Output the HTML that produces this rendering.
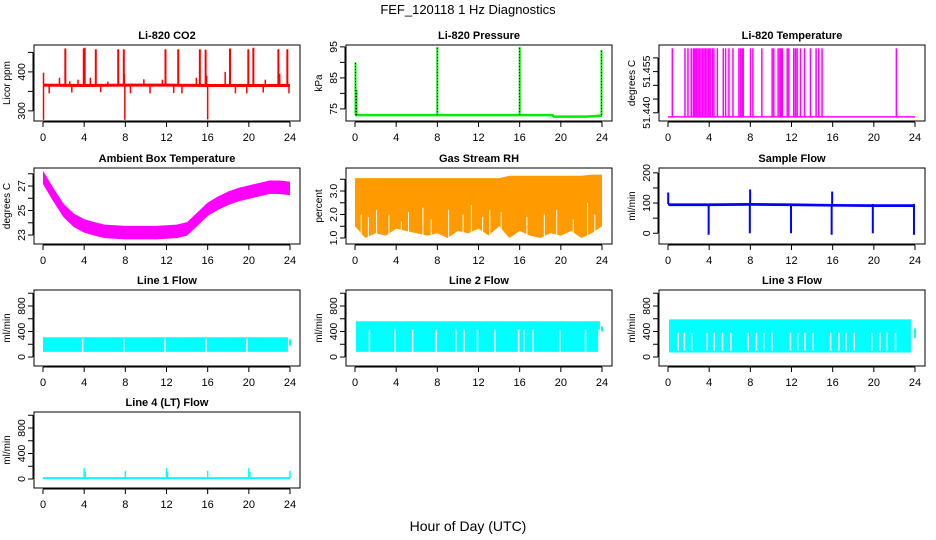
<!DOCTYPE html>
<html><head><meta charset="utf-8"><style>
html,body{margin:0;padding:0;background:#fff;width:936px;height:540px;overflow:hidden}
svg{display:block;font-family:"Liberation Sans",Arial,sans-serif}
</style></head><body>
<svg id="fig" width="936" height="540" viewBox="0 0 936 540" xmlns="http://www.w3.org/2000/svg">
<text x="468" y="14" text-anchor="middle" font-size="13">FEF_120118  1 Hz Diagnostics</text>
<text x="468" y="531" text-anchor="middle" font-size="14">Hour of Day (UTC)</text>
</svg>
<script>
// ---- data ----
const xTicks = [0,4,8,12,16,20,24];
const co2BaseT = [0,4,8,12,16,20,24];
const co2BaseV = [366,365,366,366,365,365,365];
const co2SpikeT = [2.17,3.96,4.05,5.13,7.31,7.85,11.9,13.14,15.24,15.8,18.17,19.95,20.44,22.87,23.74];
const co2SpikeV = [460,460,462,458,458,458,458,458,458,457,460,458,462,458,458];
const co2MidT = [0.05,1.6,2.6,3.4,4.6,6.3,7.9,9.8,11.6,14.9,15.9,17.7,21.6,23.0];
const co2MidV = [398,385,376,380,385,375,395,381,380,385,390,400,380,395];
const co2DipT = [0.05,0.6,2.8,5.6,7.95,8.5,10.4,12.7,13.5,16.0,18.7,19.8,21.4,23.9];
const co2DipV = [277,345,347,348,277,345,345,346,345,278,345,345,347,345];

const presT = [0,0.1,19.2,19.3,22.5,23.8,24];
const presV = [73,73,73,72.5,72.5,72.8,72.8];
const presSpikeT = [0.05,0.15,8,16,23.95];
const presSpikeV = [90,81,95,95,94];

const ltBase = 51.4385;
const ltSpikeT = [0.42,1.65,1.94,2.26,2.46,2.6,2.75,2.9,3.05,3.2,3.35,3.5,3.65,3.8,3.95,4.1,4.3,4.46,4.79,5.37,5.6,5.92,6.31,6.89,7.05,7.21,7.31,8.02,8.25,9.12,10.12,10.28,10.7,10.87,11.0,11.1,11.58,11.74,12.22,12.39,12.55,12.87,13.26,13.84,14.39,14.65,14.97,22.19];
const ltSpikeV = 51.4635;

const ambT = [0,1,2,3,4,5,6,7,8,9,10,11,12,13,14,15,16,17,18,19,20,21,22,23,24];
const ambV = [27.7,26.3,25.0,24.2,23.75,23.5,23.3,23.25,23.2,23.2,23.2,23.2,23.25,23.3,23.5,24.3,25.1,25.6,26.0,26.3,26.5,26.7,26.9,26.9,26.8];
const ambHalf = 0.55;

const rhT = [0,1,2,3,4,5,6,7,8,9,10,11,12,13,14,15,16,17,18,19,20,21,22,23,24];
const rhHi = [3.55,3.55,3.55,3.55,3.55,3.55,3.55,3.55,3.55,3.55,3.55,3.55,3.55,3.55,3.55,3.65,3.65,3.65,3.65,3.65,3.65,3.65,3.65,3.7,3.7];
const rhLo = [1.5,1.0,1.2,1.1,1.4,1.3,1.2,1.1,1.2,1.0,1.3,1.2,1.4,1.1,1.5,1.0,1.3,1.1,1.0,1.2,1.1,1.3,1.0,1.2,1.5];
const rhGapT = [0.6,1.3,2.1,3.3,4.5,5.2,6.6,7.4,9.1,10.5,11.3,12.4,13.1,14.2,16.7,18.4,19.6,21.2,22.6,23.3];
const rhGapV = [2.0,1.9,2.2,2.0,1.7,2.1,2.3,1.8,2.2,2.0,2.4,1.9,2.2,2.1,1.9,2.0,2.2,1.8,2.5,2.0];

const sfT = [0,0.2,4,8,12,16,20,24];
const sfV = [97,95,95,96,95,93,92,92];
const sfDipT = [3.95,7.95,11.95,15.9,19.9,23.9];
const sfDipV = [-5,0,0,-5,0,-5];
const sfSpikeT = [0.02,7.98,15.95];
const sfSpikeV = [135,145,138];

const l1Lo = 80, l1Hi = 310;
const l1GapT = [3.85,7.85,11.85,15.85,19.8];
const l2Lo = 80, l2Hi = 560;
const l2GapT = [1.4,3.9,5.6,7.9,9.8,10.6,11.9,13.6,15.9,16.4,17.3,19.9,22.4,23.7];
const l3Lo = 70, l3Hi = 590;
const l3GapT = [1.0,1.6,2.3,3.8,4.5,5.3,6.1,7.8,8.6,9.3,10.1,11.9,12.6,13.3,14.1,15.8,16.6,17.3,18.1,19.8,20.6,21.3,22.1];
const l4Base = 15;
const l4SpikeT = [4,4.1,8,12,12.1,16,20,20.1,24];
const l4SpikeV = [170,110,130,170,110,130,170,110,130];

// ---- layout ----
const svg = document.getElementById('fig');
const NS = 'http://www.w3.org/2000/svg';
const colL = [34,346,659], rowT = [45,168,290,412], PW = 266, PH = 76;
function mk(tag, attrs, parent){ const e=document.createElementNS(NS,tag); for(const k in attrs) e.setAttribute(k,attrs[k]); (parent||svg).appendChild(e); return e; }
function panel(c,r,y0,y1,yt,yl,title,ylab,name){
  const L=colL[c], T=rowT[r];
  const g=mk('g',{});
  
  
  const P={L,T,g,sx:t=>L+9+t*(247/24),sy:v=>T+PH-(v-y0)/(y1-y0)*PH};
  const cl=mk('clipPath',{id:'clip-'+name},g);
  mk('rect',{x:L,y:T,width:PW,height:PH},cl);
  P.d=mk('g',{'clip-path':'url(#clip-'+name+')'},g);
  
  
  const tt=mk('text',{x:L+PW/2,y:T-6,'text-anchor':'middle','font-size':'11','font-weight':'bold'},g);
  tt.textContent=title;
  
  
  const yl2=mk('text',{transform:`translate(${L-24},${T+PH/2}) rotate(-90)`,'text-anchor':'middle','font-size':'10'},g);
  yl2.textContent=ylab;
  
  
  const B=T+PH;
  mk('line',{x1:P.sx(0),x2:P.sx(24),y1:B+1,y2:B+1,stroke:'#000'},g);
  xTicks.forEach(t=>{
    mk('line',{x1:P.sx(t),x2:P.sx(t),y1:B+1,y2:B+6,stroke:'#000'},g);
    const tx=mk('text',{x:P.sx(t),y:B+20,'text-anchor':'middle','font-size':'11'},g);
    tx.textContent=t;
    
    
  });
  mk('line',{x1:L-1,x2:L-1,y1:P.sy(yt[0]),y2:P.sy(yt[yt.length-1]),stroke:'#000'},g);
  yt.forEach(v=>mk('line',{x1:L-6,x2:L-1,y1:P.sy(v),y2:P.sy(v),stroke:'#000'},g));
  yl.forEach(o=>{
    const tx=mk('text',{transform:`translate(${L-9},${P.sy(o.v)}) rotate(-90)`,'text-anchor':'middle','font-size':'10.5'},g);
    tx.textContent=o.s;
    
    
  });
  mk('rect',{x:L,y:T,width:PW,height:PH,fill:'none',stroke:'#000'},g);
  return P;
}
function poly(P,ts,vs,color,w){ mk('polyline',{points:ts.map((t,i)=>P.sx(t)+','+P.sy(vs[i])).join(' '),fill:'none',stroke:color,'stroke-width':w},P.d); }
function vline(P,t,a,b,color,w,dash){ const e=mk('line',{x1:P.sx(t),x2:P.sx(t),y1:P.sy(a),y2:P.sy(b),stroke:color,'stroke-width':w},P.d); if(dash) e.setAttribute('stroke-dasharray',dash); }
function band(P,ts,lo,hi,fill){
  const lv=ts.map((t,i)=>Array.isArray(lo)?lo[i]:lo), hv=ts.map((t,i)=>Array.isArray(hi)?hi[i]:hi);
  const pts=ts.map((t,i)=>P.sx(t)+','+P.sy(hv[i])).concat(ts.slice().reverse().map((t,j)=>P.sx(t)+','+P.sy(lv[ts.length-1-j])));
  mk('polygon',{points:pts.join(' '),fill:fill},P.d);
}

// CO2
let P=panel(0,0,274,469,[300,350,400,450],[{v:300,s:'300'},{v:400,s:'400'}],'Li-820 CO2','Licor ppm','co2');
co2SpikeT.forEach((t,i)=>vline(P,t,co2BaseV[0],co2SpikeV[i],'#ff0000',2));
co2MidT.forEach((t,i)=>vline(P,t,co2BaseV[0],co2MidV[i],'#ff0000',1.5));
co2DipT.forEach((t,i)=>vline(P,t,co2BaseV[0],co2DipV[i],'#ff0000',1.5));
poly(P,co2BaseT,co2BaseV,'#ff0000',3);

// Pressure
P=panel(1,0,71.1,95.6,[75,80,85,90,95],[{v:75,s:'75'},{v:85,s:'85'},{v:95,s:'95'}],'Li-820 Pressure','kPa','pressure');
poly(P,presT,presV,'#00ee00',2.5);
presSpikeT.forEach((t,i)=>{vline(P,t,presV[0],presSpikeV[i],'#00ee00',2);vline(P,t,presV[0],presSpikeV[i],'#000',1,'1 2');});

// Li temp
P=panel(2,0,51.437,51.4647,[51.44,51.445,51.45,51.455,51.46],[{v:51.44,s:'51.440'},{v:51.455,s:'51.455'}],'Li-820 Temperature','degrees C','li820-temp');
mk('line',{x1:P.sx(0),x2:P.sx(24),y1:P.sy(ltBase),y2:P.sy(ltBase),stroke:'#ff00ff','stroke-width':1.5},P.d);
ltSpikeT.forEach(t=>vline(P,t,ltBase,ltSpikeV,'#ff00ff',1.5));

// Ambient
P=panel(0,1,22.27,28.47,[23,24,25,26,27,28],[{v:23,s:'23'},{v:25,s:'25'},{v:27,s:'27'}],'Ambient Box Temperature','degrees C','ambient-temp');
band(P,ambT,ambV.map(v=>v-ambHalf),ambV.map(v=>v+ambHalf),'#ff00ff');

// RH
P=panel(1,1,0.745,3.98,[1,1.5,2,2.5,3,3.5],[{v:1,s:'1.0'},{v:2,s:'2.0'},{v:3,s:'3.0'}],'Gas Stream RH','percent','gas-rh');
band(P,rhT,rhLo,rhHi,'#ff9a00');
rhGapT.forEach((t,i)=>vline(P,t,0.8,rhGapV[i],'#ffffff',1));

// Sample flow
P=panel(2,1,-35.5,216,[0,50,100,150,200],[{v:0,s:'0'},{v:100,s:'100'},{v:200,s:'200'}],'Sample Flow','ml/min','sample-flow');
band(P,sfT,sfV.map(v=>v-5),sfV.map(v=>v+4),'#0000ff');
sfDipT.forEach((t,i)=>vline(P,t,sfV[0],sfDipV[i],'#0000ff',2));
sfSpikeT.forEach((t,i)=>vline(P,t,sfV[0],sfSpikeV[i],'#0000ff',2));

// Line flows
const lt=[0,200,400,600,800,1000], ll=[{v:0,s:'0'},{v:400,s:'400'},{v:800,s:'800'}];
P=panel(0,2,-141,1051,lt,ll,'Line 1 Flow','ml/min','line1-flow');
band(P,[0,23.8],l1Lo,l1Hi,'#00ffff');
l1GapT.forEach(t=>vline(P,t,l1Lo-5,l1Hi-20,'#fff',1.5));
vline(P,24,180,280,'#00ffff',2);

P=panel(1,2,-141,1051,lt,ll,'Line 2 Flow','ml/min','line2-flow');
band(P,[0.1,23.8],l2Lo,l2Hi,'#00ffff');
l2GapT.forEach(t=>vline(P,t,l2Lo-5,430,'#fff',1.5));
vline(P,24,400,480,'#00ffff',2);

P=panel(2,2,-141,1051,lt,ll,'Line 3 Flow','ml/min','line3-flow');
band(P,[0.1,23.6],l3Lo,l3Hi,'#00ffff');
l3GapT.forEach(t=>vline(P,t,l3Lo+30,380,'#fff',1.5));
vline(P,24,300,450,'#00ffff',2);

P=panel(0,3,-141,1051,lt,ll,'Line 4 (LT) Flow','ml/min','line4-flow');
band(P,[0,24],l4Base-15,l4Base+15,'#00ffff');
l4SpikeT.forEach((t,i)=>vline(P,t,l4Base,l4SpikeV[i],'#00ffff',1.5));
</script>
</body></html>
